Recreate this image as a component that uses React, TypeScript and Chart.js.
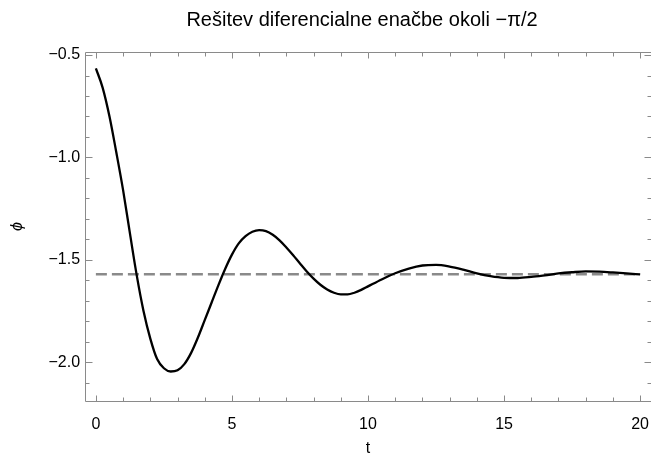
import React, { useEffect, useRef } from "react";
import { Chart, registerables } from "chart.js";

Chart.register(...registerables);

// ---- data ----
const tValues = [
  0, 0.25, 0.5, 0.75, 1, 1.25, 1.5, 1.75, 2, 2.25, 2.5, 2.75, 3, 3.25, 3.5, 3.75,
  4, 4.25, 4.5, 4.75, 5, 5.25, 5.5, 5.75, 6, 6.25, 6.5, 6.75, 7, 7.25, 7.5, 7.75,
  8, 8.25, 8.5, 8.75, 9, 9.25, 9.5, 9.75, 10, 10.5, 11, 11.5, 12, 12.5, 13, 13.5,
  14, 14.5, 15, 15.5, 16, 16.5, 17, 17.5, 18, 18.5, 19, 19.5, 20,
];
const phiValues = [
  -0.565, -0.66, -0.8, -0.975, -1.16, -1.37, -1.575, -1.75, -1.885, -1.985, -2.03, -2.046, -2.04, -2.01, -1.955, -1.88,
  -1.795, -1.71, -1.625, -1.545, -1.475, -1.42, -1.385, -1.363, -1.355, -1.36, -1.378, -1.405, -1.44, -1.478, -1.518, -1.557,
  -1.592, -1.622, -1.645, -1.661, -1.669, -1.669, -1.661, -1.647, -1.63, -1.596, -1.566, -1.543, -1.528, -1.525, -1.533, -1.548,
  -1.566, -1.58, -1.588, -1.589, -1.584, -1.576, -1.567, -1.561, -1.557, -1.558, -1.562, -1.567, -1.571,
];
const refT = [0, 20];
const refPhi = [-1.5708, -1.5708];

const xTickValues = [0, 5, 10, 15, 20];
const yTickValues = [-2.0, -1.5, -1.0, -0.5];
const yTickLabels = ["\u22122.0", "\u22121.5", "\u22121.0", "\u22120.5"];
const xMinorStep = 1;
const yMinorStep = 0.1;

const titleText = "Rešitev diferencialne enačbe okoli \u2212\u03c0/2";
const xTitle = "t";
const yTitle = "\u03d5";

const FONT = "'Liberation Sans', Arial, Helvetica, sans-serif";
const FRAME = "#8a8a8a";

const framePlugin = {
  id: "mmaFrame",
  afterDatasetsDraw(chart: any) {
    const { ctx, chartArea: a, scales } = chart;
    const xs = scales.x;
    const ys = scales.y;
    ctx.save();
    ctx.strokeStyle = FRAME;
    ctx.lineWidth = 1;
    const L = a.left + 0.5;
    const R = a.right + 0.5;
    const T = a.top + 0.5;
    const B = a.bottom + 0.5;
    ctx.beginPath();
    ctx.moveTo(L, T);
    ctx.lineTo(R, T);
    ctx.lineTo(R, B);
    ctx.lineTo(L, B);
    ctx.closePath();
    ctx.stroke();

    ctx.beginPath();
    // x ticks
    const xmin = xTickValues[0];
    const xmax = xTickValues[xTickValues.length - 1];
    for (let k = 0; xmin + k * xMinorStep <= xmax + 1e-9; k++) {
      const v = xmin + k * xMinorStep;
      const major = xTickValues.some((m) => Math.abs(m - v) < 1e-9);
      const len = major ? 6 : 4;
      const px = Math.round(xs.getPixelForValue(v)) + 0.5;
      ctx.moveTo(px, B);
      ctx.lineTo(px, B - len);
      ctx.moveTo(px, T);
      ctx.lineTo(px, T + len);
    }
    // y ticks
    const ymin = -2.1;
    const ymax = -0.5;
    const n = Math.round((ymax - ymin) / yMinorStep);
    for (let k = 0; k <= n; k++) {
      const v = ymin + k * yMinorStep;
      const major = yTickValues.some((m) => Math.abs(m - v) < 1e-6);
      const len = major ? 7 : 4;
      const py = Math.round(ys.getPixelForValue(v)) + 0.5;
      ctx.moveTo(L, py);
      ctx.lineTo(L + len, py);
      ctx.moveTo(R, py);
      ctx.lineTo(R - len, py);
    }
    ctx.stroke();
    ctx.restore();
  },
};

export default function App() {
  const ref = useRef<HTMLCanvasElement | null>(null);

  useEffect(() => {
    if (!ref.current) return;
    const chart = new Chart(ref.current, {
      type: "line",
      data: {
        datasets: [
          {
            label: "phi",
            data: tValues.map((t, i) => ({ x: t, y: phiValues[i] })),
            borderColor: "#000",
            borderWidth: 2.3,
            pointRadius: 0,
            cubicInterpolationMode: "monotone",
            fill: false,
            order: 0,
          },
          {
            label: "ref",
            data: refT.map((t, i) => ({ x: t, y: refPhi[i] })),
            borderColor: "#8a8a8a",
            borderWidth: 2.6,
            borderDash: [11, 5],
            pointRadius: 0,
            fill: false,
            order: 1,
          },
        ],
      },
      options: {
        animation: false,
        responsive: false,
        devicePixelRatio: 1,
        layout: { padding: { left: 73, right: 9, top: 0, bottom: 0 } },
        plugins: {
          legend: { display: false },
          tooltip: { enabled: false },
          title: {
            display: true,
            text: titleText,
            color: "#000",
            font: { family: FONT, size: 20, weight: "normal" },
            padding: { top: 8, bottom: 20 },
          },
        },
        scales: {
          x: {
            type: "linear",
            min: -0.4,
            max: 20.4,
            grid: { display: false },
            border: { display: false },
            afterBuildTicks: (s: any) => {
              s.ticks = xTickValues.map((v) => ({ value: v }));
            },
            afterFit: (s: any) => {
              s.height = 55;
            },
            ticks: {
              color: "#000",
              font: { family: FONT, size: 16 },
              padding: 6,
              maxRotation: 0,
              callback: (v: any) => String(v),
            },
            title: {
              display: true,
              text: xTitle,
              color: "#000",
              font: { family: FONT, size: 16 },
              padding: { top: 0, bottom: -2 },
            },
          },
          y: {
            type: "linear",
            min: -2.19,
            max: -0.485,
            grid: { display: false },
            border: { display: false },
            afterBuildTicks: (s: any) => {
              s.ticks = yTickValues.map((v) => ({ value: v }));
            },
            afterFit: (s: any) => {
              s.width = 12;
            },
            ticks: {
              color: "#000",
              font: { family: FONT, size: 16 },
              mirror: true,
              crossAlign: "near",
              padding: -36.5,
              autoSkip: false,
              callback: (v: any) => {
                const i = yTickValues.findIndex((m) => Math.abs(m - v) < 1e-9);
                return i >= 0 ? yTickLabels[i] : "";
              },
            },
            title: {
              display: true,
              text: yTitle,
              color: "#000",
              font: { family: FONT, size: 16, style: "italic" },
              padding: { top: -64.6, bottom: 0 },
            },
          },
        },
      },
      plugins: [framePlugin],
    } as any);
    return () => chart.destroy();
  }, []);

  return (
    <div
      style={{
        position: "fixed",
        left: 0,
        top: 0,
        width: 651,
        height: 456,
        overflow: "hidden",
        background: "#fff",
      }}
    >
      <canvas ref={ref} width={660} height={456} style={{ width: 660, height: 456, display: "block" }} />
    </div>
  );
}
